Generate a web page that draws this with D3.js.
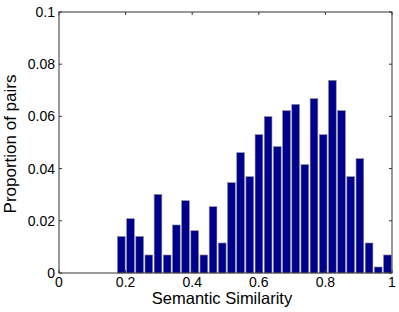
<!DOCTYPE html>
<html lang="en">
<head>
<meta charset="UTF-8">
<title>Semantic Similarity histogram</title>
<script src="https://cdn.jsdelivr.net/npm/d3@7/dist/d3.min.js"></script>
<style>
  body { margin: 0; background: #fff; }
  text { font-family: "Liberation Sans", Arial, sans-serif; fill: #000; }
</style>
</head>
<body>
<script>
  // histogram, 30 bins from first edge to 1
  var binStart = 0.1733;
  var binEnd = 1.0;
  var proportions = [
    0.0140, 0.0208, 0.0140, 0.0069, 0.0301, 0.0069, 0.0184, 0.0277, 0.0162, 0.0069,
    0.0254, 0.0115, 0.0346, 0.0461, 0.0369, 0.0530, 0.0599, 0.0484, 0.0622, 0.0646,
    0.0415, 0.0668, 0.0530, 0.0738, 0.0622, 0.0369, 0.0438, 0.0115, 0.0023, 0.0069
  ];
  var xTicks = [0, 0.2, 0.4, 0.6, 0.8, 1];
  var yTicks = [0, 0.02, 0.04, 0.06, 0.08, 0.1];

  var width = 399, height = 312;
  var margin = { left: 59, right: 7, top: 12, bottom: 39 };

  var svg = d3.select("body").append("svg")
    .attr("width", width)
    .attr("height", height);

  var x = d3.scaleLinear().domain([0, 1]).range([margin.left, width - margin.right]);
  var y = d3.scaleLinear().domain([0, 0.1]).range([height - margin.bottom, margin.top]);

  var binW = (binEnd - binStart) / proportions.length;

  svg.append("g")
    .selectAll("rect")
    .data(proportions)
    .enter()
    .append("rect")
    .attr("x", (d, i) => x(binStart + binW * (i + 0.08)))
    .attr("width", x(binW * 0.84) - x(0))
    .attr("y", d => y(d))
    .attr("height", d => y(0) - y(d))
    .attr("fill", "#00008f")
    .attr("stroke", "#8a8a8a")
    .attr("stroke-width", 0.6);

  // box
  svg.append("rect")
    .attr("x", x(0)).attr("y", y(0.1))
    .attr("width", x(1) - x(0)).attr("height", y(0) - y(0.1))
    .attr("fill", "none").attr("stroke", "#333").attr("stroke-width", 1);

  var tickLen = 3;
  var ticks = svg.append("g").attr("stroke", "#333").attr("stroke-width", 1);
  xTicks.forEach(function(t) {
    ticks.append("line").attr("x1", x(t)).attr("x2", x(t)).attr("y1", y(0)).attr("y2", y(0) - tickLen);
    ticks.append("line").attr("x1", x(t)).attr("x2", x(t)).attr("y1", y(0.1)).attr("y2", y(0.1) + tickLen);
  });
  yTicks.forEach(function(t) {
    ticks.append("line").attr("x1", x(0)).attr("x2", x(0) + tickLen).attr("y1", y(t)).attr("y2", y(t));
    ticks.append("line").attr("x1", x(1)).attr("x2", x(1) - tickLen).attr("y1", y(t)).attr("y2", y(t));
  });

  svg.append("g").selectAll("text")
    .data(xTicks).enter().append("text")
    .attr("x", d => x(d))
    .attr("y", y(0) + 13.5)
    .attr("text-anchor", "middle")
    .attr("font-size", 14)
    .text(d => d3.format("~g")(d));

  svg.append("g").selectAll("text")
    .data(yTicks).enter().append("text")
    .attr("x", x(0) - 4)
    .attr("y", d => y(d) + 5)
    .attr("text-anchor", "end")
    .attr("font-size", 14)
    .text(d => d3.format("~g")(d));

  svg.append("text")
    .attr("x", 222)
    .attr("y", 304)
    .attr("text-anchor", "middle")
    .attr("font-size", 16.5)
    .text("Semantic Similarity");

  svg.append("text")
    .attr("transform", "translate(16,144) rotate(-90)")
    .attr("text-anchor", "middle")
    .attr("font-size", 17)
    .text("Proportion of pairs");
</script>
</body>
</html>
